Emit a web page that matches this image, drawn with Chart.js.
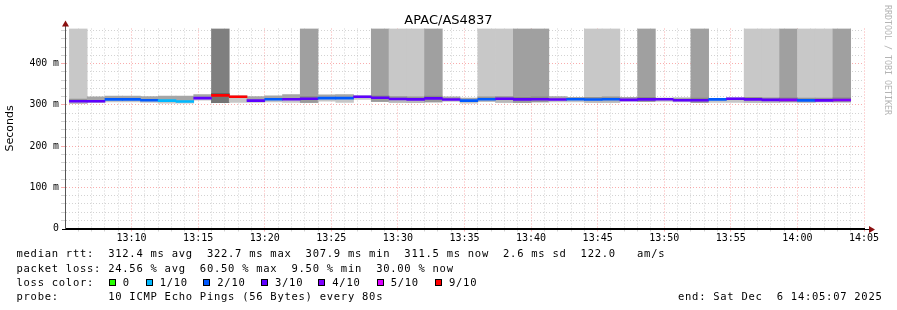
<!DOCTYPE html>
<html><head><meta charset="utf-8">
<script src="https://cdn.jsdelivr.net/npm/chart.js@4.4.1/dist/chart.umd.min.js"></script>
<style>
html,body{margin:0;padding:0;background:#fff;}
#wrap{position:relative;width:897px;height:310px;overflow:hidden;background:#fff;}
canvas{position:absolute;left:0;top:0;}
.t{position:absolute;white-space:pre;font-family:"DejaVu Sans Mono",monospace;color:#000;}
.leg{font-size:10.5px;line-height:12px;letter-spacing:0.73px;}
.sq{position:absolute;width:5px;height:5px;border:1px solid #000;}
</style></head><body>
<div id="wrap">
<canvas id="c" width="897" height="310"></canvas>
<div class="t" style="left:0;width:897px;top:12.5px;text-align:center;font-family:'DejaVu Sans',sans-serif;font-size:13px;line-height:14px;">APAC/AS4837</div>
<div class="t" style="left:883px;top:5px;writing-mode:vertical-rl;font-size:8.3px;line-height:9px;color:#b4b4b4;">RRDTOOL / TOBI OETIKER</div>
<div class="t leg" style="left:16.5px;top:247.3px">median rtt:  312.4 ms avg  322.7 ms max  307.9 ms min  311.5 ms now  2.6 ms sd  122.0   am/s</div>
<div class="t leg" style="left:16.5px;top:261.7px">packet loss: 24.56 % avg  60.50 % max  9.50 % min  30.00 % now</div>
<div class="t leg" style="left:16.5px;top:276px">loss color:</div>
<div id="lossLegend"></div>
<div class="t leg" style="left:16.5px;top:290px">probe:       10 ICMP Echo Pings (56 Bytes) every 80s</div>
<div class="t leg" style="left:678px;top:290px">end: Sat Dec  6 14:05:07 2025</div>
</div>
<script>
// ---- data ----
const axisStart = '13:05:00';
const axisEnd = '14:05:00';
const firstStepStart = '13:05:20';
const stepSeconds = 80;
const yMax = 485; // ms

// median rtt per 80 s step (ms)
const medians = [308.5,308.5,313,313,311,310,307.9,316,322.7,319.5,310,313.5,313.5,314.7,316,316,319.5,317,314,313,315.5,312.7,310,313.5,314.7,313,313.5,312.7,313.5,312.7,313.5,312,313,313.5,311,311,313,314.7,313,312,312,310.7,310.7,311.5];
// loss colour class per step (index into lossLabels)
const lossIdx = [3,3,2,2,2,1,1,3,6,6,3,2,3,3,2,2,3,3,3,3,3,3,2,2,3,3,3,3,2,2,2,3,3,3,3,3,2,3,3,3,4,2,3,4];
// smoke extending to the top: 0 none, 1 light, 2 medium, 3 dark
const tallShade = [1,0,0,0,0,0,0,0,3,0,0,0,0,2,0,0,0,2,1,1,2,0,0,1,1,2,2,0,0,1,1,0,2,0,0,2,0,0,1,1,2,1,1,2];
// smoke band around median (ms)
const smokeHi = [314,319.5,321,321,320,321,321,325,327,322,320,322,325,320,324,325,322,322,320,319,321,319,316,319,320,318,319,320,318,318,319,318,318,316,317,316,315,317,318,317,317,316,316,317];
const smokeLo = [303.5,305,307,307,306,304,304,311,305,306,306,307,306,306,309,306,313,308,306,305,307,308,304,308,306,306,307,307,307,306,306,308,308,308,307,306,306,306,306,306,307,306,307,307];

const lossLabels = ['0','1/10','2/10','3/10','4/10','5/10','9/10'];
const lossColors = ['#26ff00','#00b8ff','#0059ff','#5e00ff','#7e00ff','#dd00ff','#ff0000'];

// ---- styles ----
const tallColor = [null,'#c8c8c8','#a0a0a0','#7f7f7f'];
const upperColor = ['#a6a6a6','#959595','#878787','#5c5c5c'];
const lowerColor = ['#c6c6c6','#b8b8b8','#9a9a9a','#747474'];
const gridGray = 'rgba(175,175,175,0.55)';
const gridRed = 'rgba(240,60,60,0.42)';
const lineHalf = 2.4;

// loss legend (HTML)
const sqX = [108.7,145.7,203.3,261,318.3,376.7,435];
const ll = document.getElementById('lossLegend');
lossLabels.forEach((lab,i)=>{
  const s=document.createElement('div'); s.className='sq';
  s.style.left=sqX[i]+'px'; s.style.top='278.7px'; s.style.background=lossColors[i];
  ll.appendChild(s);
  const t=document.createElement('div'); t.className='t leg';
  t.style.left=(sqX[i]+14)+'px'; t.style.top='276px'; t.textContent=lab;
  ll.appendChild(t);
});

function toSec(s){const p=s.split(':').map(Number);return p[0]*3600+p[1]*60+(p[2]||0);}
const t0 = toSec(axisStart), span = toSec(axisEnd)-t0;
const first = toSec(firstStepStart)-t0;
const centers = medians.map((_,i)=> first + stepSeconds*i + stepSeconds/2);
const tallIdx = tallShade.map((s,i)=>s?i:-1).filter(i=>i>=0);

function fmt(v){const t=t0+v;const h=Math.floor(t/3600),m=Math.floor((t%3600)/60);return String(h).padStart(2,'0')+':'+String(m).padStart(2,'0');}

const barOpts = {xAxisID:'xb', yAxisID:'y', grouped:false, barPercentage:1, categoryPercentage:1, borderWidth:0};

const axisDecor = {
  id:'axisDecor',
  afterDraw(chart){
    const {ctx, chartArea:a} = chart;
    const yb = Math.round(a.bottom)+0.5, xl = Math.round(a.left)+0.5;
    ctx.save();
    ctx.strokeStyle='#000'; ctx.lineWidth=1;
    ctx.beginPath(); ctx.moveTo(a.left-3, yb); ctx.lineTo(a.right+6, yb); ctx.stroke();
    ctx.strokeStyle='#555';
    ctx.beginPath(); ctx.moveTo(xl, a.top); ctx.lineTo(xl, a.top-3); ctx.stroke();
    ctx.fillStyle='#8b1010';
    ctx.beginPath(); ctx.moveTo(a.right+5, yb-3.5); ctx.lineTo(a.right+5, yb+3.5); ctx.lineTo(a.right+11, yb); ctx.closePath(); ctx.fill();
    ctx.beginPath(); ctx.moveTo(xl-3.5, a.top-2); ctx.lineTo(xl+3.5, a.top-2); ctx.lineTo(xl, a.top-8); ctx.closePath(); ctx.fill();
    ctx.restore();
  }
};

new Chart(document.getElementById('c'), {
  type:'bar',
  data:{datasets:[
    Object.assign({label:'median rtt', order:0,
      data: centers.map((x,i)=>({x, y:[medians[i]-lineHalf, medians[i]+lineHalf]})),
      backgroundColor: lossIdx.map(j=>lossColors[j])}, barOpts),
    Object.assign({label:'smoke upper', order:1,
      data: centers.map((x,i)=>({x, y:[medians[i], smokeHi[i]]})),
      backgroundColor: tallShade.map(s=>upperColor[s])}, barOpts),
    Object.assign({label:'smoke lower', order:2,
      data: centers.map((x,i)=>({x, y:[smokeLo[i], medians[i]]})),
      backgroundColor: tallShade.map(s=>lowerColor[s])}, barOpts),
    Object.assign({label:'smoke high', order:3,
      data: tallIdx.map(i=>({x:centers[i], y:[smokeLo[i], yMax]})),
      backgroundColor: tallIdx.map(i=>tallColor[tallShade[i]])}, barOpts)
  ]},
  options:{
    responsive:false, animation:false,
    layout:{padding:{left:0,right:33,top:28.5,bottom:0}},
    plugins:{legend:{display:false}, tooltip:{enabled:false}, title:{display:false}},
    scales:{
      xb:{type:'linear', display:false, offset:false, min:0, max:span, ticks:{stepSize:900}, grid:{offset:false}},
      x:{type:'linear', position:'bottom', offset:false, min:0, max:span, z:1,
        afterFit(s){ s.height = 310-228.5; },
        ticks:{stepSize:60, includeBounds:false, autoSkip:false, maxRotation:0, padding:1,
          color:'#000', font:{family:'DejaVu Sans Mono', size:10},
          callback:(v)=> (v>0 && v%300===0) ? fmt(v) : ''},
        grid:{offset:false, lineWidth:1, tickLength:3,
          color:(c)=> (c.tick && c.tick.value===0) ? 'rgba(0,0,0,0)' : (c.tick && c.tick.value%300===0 ? gridRed : gridGray)},
        border:{display:true, color:'#000', width:1, dash:[1,2]}
      },
      y:{type:'linear', position:'left', min:0, max:yMax, z:1,
        afterFit(s){ s.width = 65; },
        title:{display:true, text:'Seconds', color:'#000', font:{family:'DejaVu Sans', size:11}, padding:{top:4,bottom:0}},
        ticks:{stepSize:20, includeBounds:false, autoSkip:false, padding:2,
          color:'#000', font:{family:'DejaVu Sans Mono', size:9.8},
          callback:(v)=> v===0 ? '0' : (v%100===0 ? v+' m' : '')},
        grid:{lineWidth:1, tickLength:4,
          color:(c)=> (c.tick && c.tick.value===0) ? 'rgba(0,0,0,0)' : (c.tick && c.tick.value%100===0 ? gridRed : gridGray)},
        border:{display:true, color:'#555', width:1, dash:[1,2]}
      }
    }
  },
  plugins:[axisDecor]
});
</script>
</body></html>
